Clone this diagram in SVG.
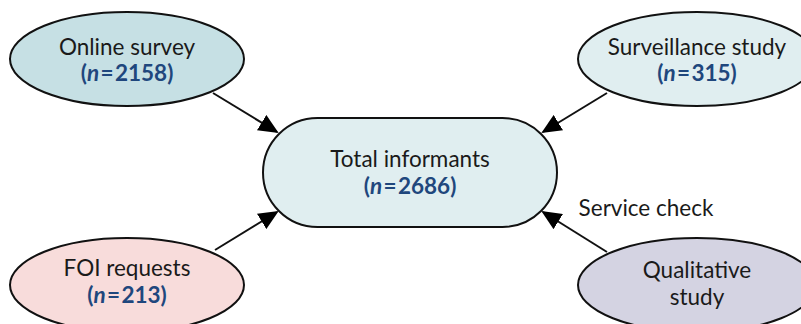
<svg xmlns="http://www.w3.org/2000/svg" width="801" height="324" viewBox="0 0 801 324">
<style>
text{font-family:Lato,"Open Sans","Liberation Sans",sans-serif;font-size:22.5px;fill:#1a1a1a;text-anchor:middle}
.n{fill:#1f477d;font-weight:bold}
.shape{stroke:#111;stroke-width:2}
.conn{stroke:#111;stroke-width:2;fill:none;marker-end:url(#ah)}
</style>
<defs>
<marker id="ah" viewBox="0 0 20 18" refX="18" refY="9" markerWidth="20" markerHeight="18" markerUnits="userSpaceOnUse" orient="auto">
<path d="M0,0 L20,9 L0,18 z" fill="#000"/>
</marker>
</defs>
<rect width="801" height="324" fill="#fff"/>
<g id="connectors">
<line class="conn" x1="213" y1="93" x2="277" y2="132"/>
<line class="conn" x1="607" y1="93" x2="543" y2="132"/>
<line class="conn" x1="215" y1="250" x2="277" y2="212"/>
<line class="conn" x1="607" y1="252" x2="543" y2="212"/>
<text x="646" y="216">Service check</text>
</g>
<g id="online-survey">
<ellipse class="shape" cx="127" cy="59" rx="117" ry="47" fill="#c6e0e4"/>
<text x="127" y="55">Online survey</text>
<text class="n" x="127" y="81">(<tspan font-style="italic">n</tspan>&#8202;=&#8202;2158)</text>
</g>
<g id="surveillance-study">
<ellipse class="shape" cx="697" cy="59" rx="119" ry="47" fill="#e0eef0"/>
<text x="697" y="55">Surveillance study</text>
<text class="n" x="697" y="81">(<tspan font-style="italic">n</tspan>&#8202;=&#8202;315)</text>
</g>
<g id="total-informants">
<rect class="shape" x="263" y="118" width="294" height="109" rx="54.5" fill="#e0eef0"/>
<text x="410" y="167">Total informants</text>
<text class="n" x="410" y="194">(<tspan font-style="italic">n</tspan>&#8202;=&#8202;2686)</text>
</g>
<g id="foi-requests">
<ellipse class="shape" cx="127" cy="285" rx="117" ry="47" fill="#f8dcdb"/>
<text x="127" y="276">FOI requests</text>
<text class="n" x="127" y="303">(<tspan font-style="italic">n</tspan>&#8202;=&#8202;213)</text>
</g>
<g id="qualitative-study">
<ellipse class="shape" cx="697" cy="285" rx="119" ry="47" fill="#d4d3e2"/>
<text x="697" y="278">Qualitative</text>
<text x="697" y="305">study</text>
</g>
</svg>
